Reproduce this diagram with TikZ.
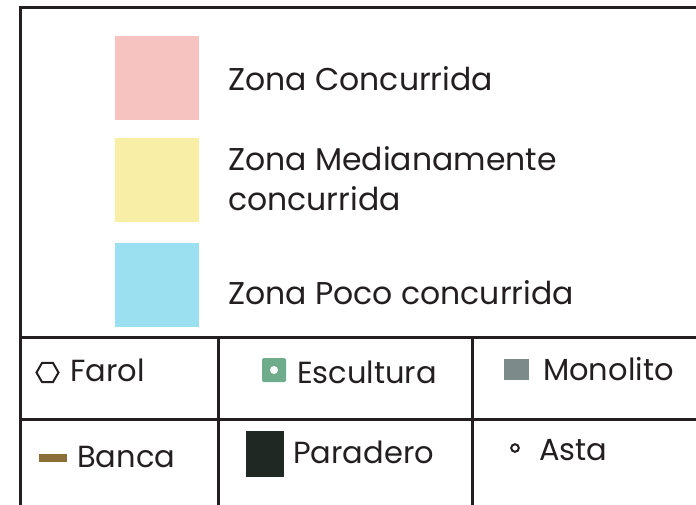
\documentclass[tikz,border=0pt]{standalone}
\usepackage{fontspec}
\setmainfont{Poppins}
\usetikzlibrary{shapes.geometric}
\definecolor{zonaalta}{HTML}{F6C3C1}
\definecolor{zonamedia}{HTML}{F8EEA6}
\definecolor{zonabaja}{HTML}{9BE0F0}
\definecolor{verdeesc}{HTML}{6EAC8C}
\definecolor{grismono}{HTML}{7C8B8A}
\definecolor{oscuropar}{HTML}{1F2822}
\definecolor{cafebanca}{HTML}{8A7038}
\definecolor{tinta}{HTML}{231F20}

\begin{document}
\begin{tikzpicture}[x=1pt,y=-1pt,
	rotulo/.style={anchor=base west, inner sep=0pt, text=tinta, font=\fontsize{31.5}{36}\selectfont},
	celda/.style={anchor=base west, inner sep=0pt, text=tinta, font=\fontsize{30.5}{36}\selectfont},
	marco/.style={line width=3pt, draw=tinta}]
			%%%%% START %%%%%
			\useasboundingbox (0,0) rectangle (696,504);
			
			% marco y tabla
			\draw[marco] (20.5,520) -- (20.5,7.5) -- (710,7.5);
			\draw[marco] (20.5,337) -- (710,337);
			\draw[marco] (20.5,419) -- (710,419);
			\draw[marco] (218,337) -- (218,520);
			\draw[marco] (472,337) -- (472,520);
			
			% zonas
			\fill[zonaalta] (115,36) rectangle (199,120);
			\fill[zonamedia] (115,138) rectangle (199,222);
			\fill[zonabaja] (115,243) rectangle (199,327);
			\node[rotulo] (alta) at (228,90) {Zona Concurrida};
			\node[rotulo] (media) at (228,170) {Zona Medianamente};
			\node[rotulo] (media2) at (228,210) {concurrida};
			\node[rotulo] (baja) at (228,304) {Zona Poco concurrida};
			
			% simbolos
			\node[regular polygon, regular polygon sides=6, draw=tinta, line width=2pt,
				minimum size=22pt, inner sep=0pt] (hexa) at (47.5,372.5) {};
			\node[celda] (farol) at (70,381) {Farol};
			
			\fill[verdeesc, rounded corners=1.5pt] (262,358) rectangle (286,382);
			\fill[white] (274,370) circle (4);
			\node[celda] (escultura) at (297,383) {Escultura};
			
			\fill[grismono] (504,359) rectangle (529,380);
			\node[celda] (monolito) at (543,380) {Monolito};
			
			\fill[cafebanca] (39,454) rectangle (67,462);
			\node[celda] (banca) at (77,467) {Banca};
			
			\fill[oscuropar] (246,431) rectangle (284,477);
			\node[celda] (paradero) at (293,463) {Paradero};
			
			\draw[tinta, line width=2pt] (515,448) circle (3.8);
			\node[celda] (asta) at (539,460) {Asta};
			%%%%% END %%%%%
\end{tikzpicture}
\end{document}
